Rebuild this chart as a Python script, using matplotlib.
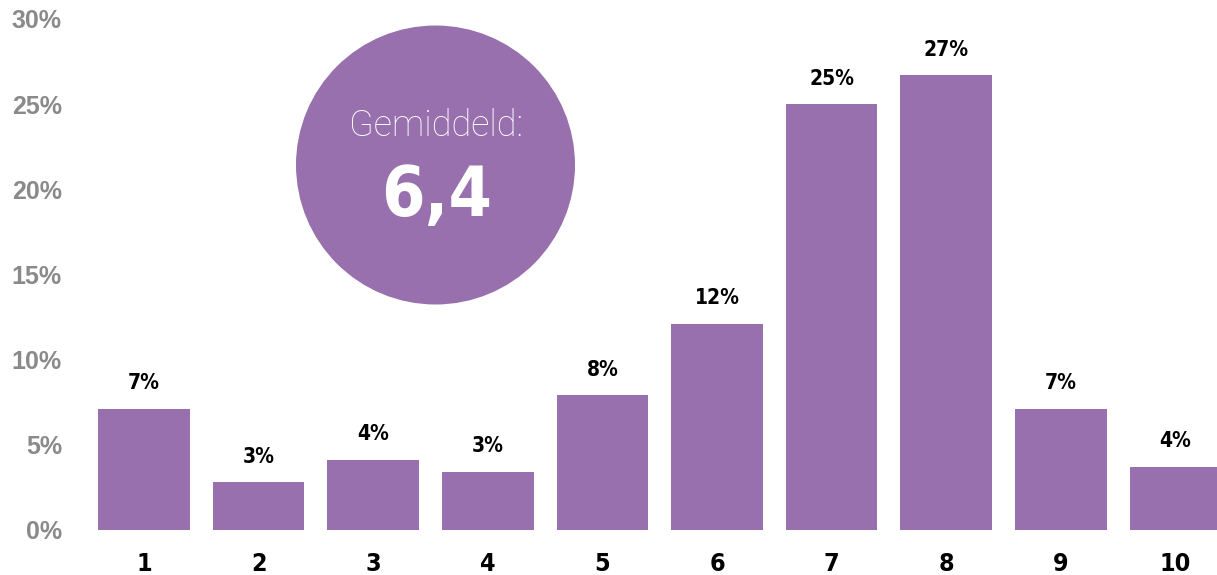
import numpy as np
import matplotlib
matplotlib.use("Agg")
import matplotlib.pyplot as plt
from matplotlib.patches import Ellipse

# score distribution (percent of respondents per score)
scores = ['1', '2', '3', '4', '5', '6', '7', '8', '9', '10']
shares = [7.1, 2.8, 4.1, 3.4, 7.9, 12.1, 25.0, 26.7, 7.1, 3.7]
yticks = [0, 5, 10, 15, 20, 25, 30]
avg_label = 'Gemiddeld:'
avg_value = '6,4'

purple = '#9870ad'
cond = dict(family='DejaVu Sans', fontstretch='condensed', fontweight='bold')

fig = plt.figure(figsize=(12.17, 5.75), dpi=100)
W, H = 1217., 575.
left_px, bottom_px, top_px = 80., 529.5, 19.
ax = fig.add_axes([left_px/W, 1-bottom_px/H, 1-left_px/W, (bottom_px-top_px)/H])

x = np.arange(1, len(scores)+1)
ax.bar(x, shares, width=0.8, color=purple, zorder=2)

for xi, v in zip(x, shares):
    ax.text(xi, v+0.9, '%d%%' % round(v), ha='center', va='bottom',
            fontsize=15, color='black', **cond)

pitch = 114.6
ax.set_xlim(1-(144-left_px)/pitch, 1+(W-144)/pitch)
ax.set_ylim(0, 30)
ax.set_xticks(x)
ax.set_xticklabels(scores, fontsize=18, **cond)
ax.set_yticks(yticks)
ax.set_yticklabels(['%d%%' % t for t in yticks], fontsize=18, fontweight='bold',
                   family=['Liberation Sans', 'DejaVu Sans'], color='#8a8a8a')
ax.tick_params(axis='x', length=0, pad=16)
ax.tick_params(axis='y', length=0, pad=13)
for s in ax.spines.values():
    s.set_visible(False)

# average bubble
cx, cy, r = 435.5, 165., 139.5
fig.patches.append(Ellipse((cx/W, 1-cy/H), 2*r/W, 2*r/H, transform=fig.transFigure,
                           facecolor=purple, edgecolor='none', zorder=3))
fig.text(cx/W, 1-126/H, avg_label, ha='center', va='center', fontsize=26,
         fontweight='light', family=['Roboto', 'DejaVu Sans'], color='white', zorder=4)
fig.text(437/W, 1-197/H, avg_value, ha='center', va='center', fontsize=50,
         color='white', zorder=4, **cond)

fig.savefig('out.png', dpi=100)
